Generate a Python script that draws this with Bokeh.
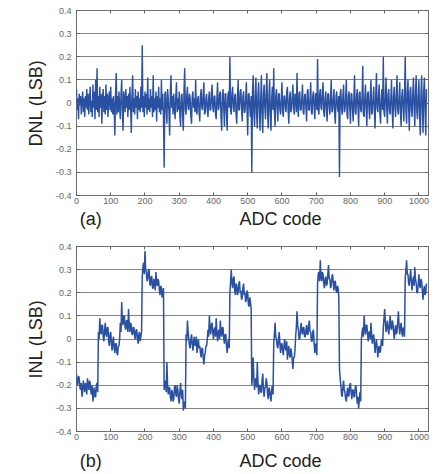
from bokeh.plotting import figure
from bokeh.layouts import column
from bokeh.models import LinearAxis, FixedTicker, Range1d
from bokeh.core.properties import value
from bokeh.embed import file_html
from bokeh.resources import INLINE

# ---------------- data, one list per 64-code block, step 2 codes ----------------
dnl_blocks = [
    [0.06, -0.03, 0.02, -0.07, 0.04, -0.01, 0.03, -0.05, 0.01, 0.05, -0.04, 0.02, -0.06, 0.03, -0.02, 0.06,
     -0.03, 0.04, -0.05, 0.02, 0.07, -0.04, 0.01, -0.06, 0.08, -0.02, 0.05, -0.07, 0.10, -0.03, 0.15, -0.04],
    [0.03, -0.06, 0.07, -0.02, 0.04, -0.09, 0.02, 0.06, -0.04, 0.03, -0.05, 0.08, -0.03, 0.04, -0.06, 0.02,
     0.05, -0.03, 0.07, -0.04, 0.02, -0.05, 0.03, -0.02, -0.14, 0.04, 0.13, -0.05, 0.03, -0.04, 0.05, -0.02],
    [-0.07, 0.04, 0.10, -0.03, -0.12, 0.05, 0.02, -0.04, 0.06, -0.02, 0.03, -0.06, 0.04, -0.03, 0.07, -0.01,
     -0.13, 0.03, 0.12, -0.04, 0.02, -0.05, 0.06, -0.02, 0.03, -0.07, 0.05, -0.03, 0.02, -0.04, 0.07, -0.02],
    [0.25, -0.04, 0.03, -0.06, 0.05, -0.02, 0.04, -0.05, 0.11, -0.03, 0.02, -0.04, 0.06, -0.02, 0.03, -0.06,
     0.12, -0.04, 0.02, -0.03, 0.05, -0.08, 0.03, -0.02, 0.07, -0.04, 0.02, -0.05, 0.10, -0.03, 0.04, -0.06],
    [-0.28, 0.04, 0.05, -0.03, -0.09, 0.06, 0.02, -0.04, -0.14, 0.05, 0.12, -0.02, 0.03, -0.05, 0.04, -0.02,
     -0.07, 0.03, 0.09, -0.04, 0.02, -0.03, 0.05, -0.06, -0.10, 0.03, 0.04, -0.05, -0.12, 0.06, 0.15, -0.03],
    [-0.05, 0.03, 0.07, -0.02, -0.03, 0.04, 0.02, -0.06, -0.09, 0.03, 0.05, -0.02, 0.02, -0.04, 0.10, -0.03,
     -0.05, 0.02, 0.03, -0.04, -0.08, 0.03, 0.06, -0.02, -0.03, 0.04, 0.09, -0.05, -0.04, 0.02, 0.04, -0.03],
    [-0.06, 0.02, 0.05, -0.03, -0.03, 0.04, 0.08, -0.02, -0.04, 0.03, 0.03, -0.05, -0.07, 0.02, 0.09, -0.03,
     -0.02, 0.04, 0.05, -0.06, -0.12, 0.03, 0.06, -0.02, -0.10, 0.04, 0.04, -0.05, -0.12, 0.03, 0.05, -0.02],
    [0.20, -0.03, -0.05, 0.04, 0.07, -0.02, -0.04, 0.03, 0.04, -0.05, -0.09, 0.02, 0.10, -0.03, -0.03, 0.05,
     0.06, -0.02, -0.08, 0.03, 0.05, -0.04, -0.04, 0.02, 0.09, -0.03, -0.14, 0.04, 0.04, -0.02, -0.06, 0.03],
    [-0.30, 0.05, 0.12, -0.04, -0.10, 0.03, 0.11, -0.05, -0.11, 0.04, 0.09, -0.03, -0.12, 0.02, 0.12, -0.06,
     -0.13, 0.04, 0.08, -0.02, -0.07, 0.05, 0.13, -0.04, -0.11, 0.03, 0.10, -0.05, -0.12, 0.02, 0.07, -0.03],
    [0.15, -0.04, -0.10, 0.03, 0.06, -0.02, -0.08, 0.04, 0.04, -0.03, -0.05, 0.02, 0.09, -0.04, -0.06, 0.03,
     0.03, -0.02, -0.04, 0.05, 0.07, -0.03, -0.09, 0.02, 0.05, -0.04, -0.03, 0.03, 0.08, -0.02, -0.05, 0.04],
    [0.03, -0.04, 0.13, -0.02, -0.06, 0.04, 0.05, -0.03, -0.03, 0.02, 0.08, -0.04, -0.05, 0.03, 0.04, -0.02,
     -0.08, 0.05, 0.06, -0.03, -0.03, 0.02, 0.09, -0.04, -0.05, 0.03, 0.05, -0.02, -0.07, 0.04, 0.04, -0.03],
    [0.19, -0.03, -0.05, 0.04, 0.06, -0.02, -0.03, 0.05, 0.09, -0.04, -0.06, 0.02, 0.05, -0.03, -0.08, 0.04,
     0.04, -0.02, -0.05, 0.03, 0.10, -0.04, -0.03, 0.02, 0.06, -0.05, -0.09, 0.03, 0.05, -0.02, -0.04, 0.03],
    [-0.32, 0.04, 0.06, -0.02, -0.05, 0.03, 0.08, -0.04, -0.03, 0.02, 0.10, -0.05, -0.07, 0.03, 0.05, -0.02,
     -0.09, 0.04, 0.04, -0.03, -0.08, 0.02, 0.12, -0.04, -0.05, 0.03, 0.06, -0.02, -0.10, 0.04, 0.05, -0.03],
    [-0.04, 0.03, 0.16, -0.05, -0.06, 0.02, 0.08, -0.03, -0.10, 0.04, 0.05, -0.02, -0.07, 0.03, 0.10, -0.05,
     -0.04, 0.02, 0.07, -0.03, -0.11, 0.04, 0.13, -0.02, -0.04, 0.03, 0.08, -0.05, -0.09, 0.02, 0.06, -0.03],
    [0.20, -0.04, -0.06, 0.03, 0.11, -0.02, -0.09, 0.04, 0.06, -0.03, -0.05, 0.02, 0.10, -0.04, -0.11, 0.03,
     0.07, -0.02, -0.06, 0.04, 0.12, -0.03, -0.05, 0.02, 0.09, -0.04, -0.10, 0.03, 0.06, -0.02, -0.08, 0.04],
    [0.20, -0.03, -0.09, 0.04, 0.10, -0.02, -0.12, 0.05, 0.07, -0.03, -0.06, 0.04, 0.11, -0.02, -0.10, 0.05,
     0.12, -0.04, -0.07, 0.03, 0.10, -0.05, -0.14, 0.04, 0.12, -0.03, -0.13, 0.05, 0.11, -0.04, -0.14, 0.06],
]

inl_blocks = [
    [-0.15, -0.20, -0.19, -0.16, -0.17, -0.21, -0.22, -0.19, -0.25, -0.22, -0.18, -0.21, -0.23, -0.19, -0.20, -0.24,
     -0.17, -0.20, -0.22, -0.18, -0.19, -0.23, -0.24, -0.20, -0.27, -0.24, -0.21, -0.25, -0.25, -0.20, -0.19, -0.23],
    [0.03, 0.00, 0.09, 0.04, 0.02, 0.06, 0.06, 0.01, -0.01, 0.04, 0.07, 0.02, 0.01, 0.05, 0.05, -0.01,
     -0.03, 0.02, 0.03, -0.02, -0.05, -0.01, 0.01, -0.04, -0.06, -0.02, -0.02, -0.06, -0.07, -0.03, -0.03, 0.00],
    [0.07, 0.03, 0.16, 0.08, 0.06, 0.10, 0.10, 0.05, 0.04, 0.08, 0.08, 0.03, 0.13, 0.06, 0.03, 0.07,
     0.06, 0.02, 0.02, 0.05, 0.05, 0.01, 0.00, 0.04, 0.04, 0.00, -0.02, 0.02, 0.03, -0.01, 0.01, 0.03],
    [0.27, 0.31, 0.33, 0.28, 0.38, 0.30, 0.29, 0.25, 0.26, 0.30, 0.30, 0.24, 0.23, 0.27, 0.27, 0.22,
     0.22, 0.26, 0.25, 0.21, 0.29, 0.24, 0.23, 0.26, 0.25, 0.21, 0.19, 0.23, 0.22, 0.18, 0.20, 0.22],
    [-0.22, -0.18, -0.19, -0.23, -0.10, -0.20, -0.24, -0.21, -0.21, -0.25, -0.27, -0.22, -0.23, -0.27, -0.26, -0.21,
     -0.20, -0.24, -0.25, -0.20, -0.22, -0.26, -0.28, -0.23, -0.19, -0.24, -0.26, -0.22, -0.31, -0.27, -0.28, -0.30],
    [0.02, -0.01, 0.08, 0.03, 0.00, -0.03, -0.04, 0.00, 0.02, -0.02, -0.05, -0.01, 0.01, -0.03, -0.02, 0.01,
     -0.06, -0.03, 0.00, -0.04, -0.03, -0.06, -0.08, -0.04, -0.04, -0.08, -0.11, -0.07, -0.06, -0.03, -0.03, 0.00],
    [0.04, 0.01, 0.10, 0.05, 0.02, 0.06, 0.07, 0.03, 0.00, 0.04, 0.05, 0.01, 0.09, 0.03, -0.01, 0.03,
     0.04, 0.00, 0.08, 0.03, 0.01, 0.05, 0.05, 0.00, -0.02, 0.02, 0.02, -0.03, -0.06, -0.02, 0.00, -0.04],
    [0.20, 0.25, 0.30, 0.24, 0.22, 0.26, 0.27, 0.21, 0.19, 0.24, 0.23, 0.19, 0.20, 0.24, 0.25, 0.20,
     0.21, 0.17, 0.18, 0.22, 0.24, 0.19, 0.20, 0.16, 0.17, 0.21, 0.20, 0.15, 0.14, 0.18, 0.16, 0.13],
    [-0.20, -0.16, -0.08, -0.17, -0.22, -0.18, -0.17, -0.21, -0.10, -0.19, -0.24, -0.20, -0.20, -0.23, -0.23, -0.18,
     -0.15, -0.22, -0.25, -0.21, -0.21, -0.17, -0.19, -0.24, -0.26, -0.21, -0.22, -0.25, -0.27, -0.22, -0.20, -0.24],
    [-0.02, 0.02, 0.07, 0.01, 0.00, -0.03, -0.04, 0.00, 0.03, -0.02, -0.06, -0.02, -0.02, -0.05, -0.07, -0.03,
     0.00, -0.04, -0.05, -0.01, -0.09, -0.05, -0.03, -0.07, -0.08, -0.04, -0.06, -0.09, -0.13, -0.08, -0.08, -0.05],
    [0.01, 0.05, 0.12, 0.06, 0.04, 0.00, 0.00, 0.04, 0.07, 0.03, 0.02, 0.05, 0.05, 0.01, 0.01, 0.04,
     0.06, 0.02, 0.02, 0.06, 0.08, 0.03, 0.03, -0.01, -0.01, 0.03, 0.04, -0.02, -0.06, -0.02, -0.03, -0.07],
    [0.24, 0.28, 0.29, 0.25, 0.34, 0.27, 0.25, 0.29, 0.28, 0.24, 0.22, 0.26, 0.27, 0.23, 0.24, 0.28,
     0.32, 0.26, 0.26, 0.22, 0.23, 0.27, 0.28, 0.24, 0.21, 0.25, 0.25, 0.21, 0.20, 0.23, 0.22, 0.18],
    [-0.13, -0.17, -0.20, -0.24, -0.25, -0.21, -0.18, -0.22, -0.23, -0.26, -0.27, -0.23, -0.21, -0.25, -0.24, -0.20,
     -0.19, -0.23, -0.26, -0.22, -0.22, -0.25, -0.25, -0.21, -0.20, -0.24, -0.28, -0.25, -0.30, -0.26, -0.23, -0.27],
    [0.00, 0.03, 0.05, 0.01, 0.10, 0.05, 0.02, 0.06, 0.06, 0.02, -0.01, 0.03, 0.03, 0.00, 0.07, 0.02,
     -0.02, 0.01, 0.02, -0.02, -0.06, -0.02, 0.00, -0.04, -0.08, -0.04, -0.03, -0.06, -0.05, -0.01, 0.00, -0.03],
    [0.05, 0.09, 0.13, 0.07, 0.03, 0.06, 0.08, 0.04, 0.02, 0.06, 0.10, 0.05, 0.04, 0.08, 0.07, 0.03,
     0.00, 0.04, 0.06, 0.02, 0.03, 0.07, 0.12, 0.06, 0.02, 0.05, 0.07, 0.03, 0.01, 0.05, 0.04, 0.01],
    [0.26, 0.30, 0.34, 0.28, 0.28, 0.24, 0.23, 0.27, 0.30, 0.25, 0.21, 0.25, 0.27, 0.23, 0.31, 0.26,
     0.24, 0.20, 0.20, 0.24, 0.28, 0.23, 0.22, 0.26, 0.25, 0.21, 0.17, 0.21, 0.23, 0.19, 0.20, 0.24],
]

BLOCK = 64
STEP = 2

x_ticks = [0, 100, 200, 300, 400, 500, 600, 700, 800, 900, 1000]
y_ticks = [-0.4, -0.3, -0.2, -0.1, 0, 0.1, 0.2, 0.3, 0.4]
y_tick_labels = {-0.4: "-0.4", -0.3: "-0.3", -0.2: "-0.2", -0.1: "-0.1", 0: "0",
                 0.1: "0.1", 0.2: "0.2", 0.3: "0.3", 0.4: "0.4"}
x_title = "ADC code"


def flatten(blocks):
    xs, ys = [], []
    for k, blk in enumerate(blocks):
        for i, v in enumerate(blk):
            xs.append(k * BLOCK + i * STEP)
            ys.append(v)
    return xs, ys


LINE = "#2a50a2"
GRID = "#858585"
TICKC = "#606060"
FONT = "Liberation Sans"
W = 435
LEFT = 76
RIGHT = 7
FRAME_H = 185
BIG = "18px"


def make_panel(blocks, ylabel, top, lw):
    xs, ys = flatten(blocks)
    bottom = 12
    p = figure(width=W, height=top + FRAME_H + bottom, output_backend="svg", toolbar_location=None,
               x_range=Range1d(0, 1028), y_range=Range1d(-0.4, 0.4),
               min_border_left=LEFT, min_border_right=RIGHT, min_border_top=top,
               min_border_bottom=bottom, x_axis_location=None, y_axis_location=None)
    p.outline_line_color = "#707070"
    p.outline_line_width = 1
    p.background_fill_color = "white"
    p.border_fill_color = "white"
    p.xgrid.visible = False
    p.ygrid.ticker = FixedTicker(ticks=y_ticks)
    p.ygrid.grid_line_color = GRID
    p.ygrid.grid_line_width = 1

    xa = LinearAxis(ticker=FixedTicker(ticks=x_ticks))
    ya = LinearAxis(ticker=FixedTicker(ticks=y_ticks), axis_label=ylabel)
    ya.major_label_overrides = y_tick_labels
    for ax in (xa, ya):
        ax.axis_line_color = None
        ax.major_tick_in = 3
        ax.major_tick_out = 0
        ax.major_tick_line_color = TICKC
        ax.minor_tick_line_color = None
        ax.major_label_text_font = FONT
        ax.major_label_text_font_size = "9px"
        ax.major_label_text_color = "#666666"
        ax.axis_label_text_font = FONT
        ax.axis_label_text_font_style = "normal"
        ax.axis_label_text_color = "#222222"
    ya.axis_label_text_font_size = BIG
    xa.major_label_standoff = 2
    ya.major_label_standoff = 5
    ya.axis_label_standoff = 7
    p.add_layout(xa, "below")
    p.add_layout(ya, "left")

    xt = LinearAxis(ticker=FixedTicker(ticks=x_ticks))
    yr = LinearAxis(ticker=FixedTicker(ticks=y_ticks))
    for ax in (xt, yr):
        ax.axis_line_color = None
        ax.major_tick_in = 3
        ax.major_tick_out = 0
        ax.major_tick_line_color = TICKC
        ax.minor_tick_line_color = None
        ax.major_label_text_font_size = "0px"
        ax.major_label_text_color = None
        ax.major_label_standoff = 0
    p.add_layout(xt, "above")
    p.add_layout(yr, "right")

    p.line(xs, ys, line_color=LINE, line_width=lw)
    return p


def caption_strip(tag, height, mid_from_top):
    # strip under a panel holding the panel tag and the x-axis title (screen-pixel ranges)
    s = figure(width=W, height=height, output_backend="svg", toolbar_location=None,
               x_range=Range1d(0, W), y_range=Range1d(height, 0),
               min_border_left=0, min_border_right=0, min_border_top=0, min_border_bottom=0,
               x_axis_location=None, y_axis_location=None)
    s.outline_line_color = None
    s.xgrid.visible = False
    s.ygrid.visible = False
    s.background_fill_color = "white"
    s.border_fill_color = "white"
    s.text(x=[4], y=[mid_from_top], text=[tag], text_font=value(FONT), text_font_size=value(BIG),
           text_color="#222222", text_baseline="middle", text_align="left")
    s.text(x=[LEFT + (W - LEFT - RIGHT) / 2], y=[mid_from_top], text=[x_title], text_font=value(FONT),
           text_font_size=value(BIG), text_color="#222222", text_baseline="middle", text_align="center")
    return s


pa = make_panel(dnl_blocks, "DNL (LSB)", 10, 1.4)   # 207 tall
sa = caption_strip("(a)", 33, 11)                   # to y = 240
pb = make_panel(inl_blocks, "INL (LSB)", 6, 1.5)    # 203 tall
sb = caption_strip("(b)", 31, 17)                   # to y = 474

layout = column(pa, sa, pb, sb, spacing=0)
open("out.html", "w").write(file_html(layout, INLINE))
